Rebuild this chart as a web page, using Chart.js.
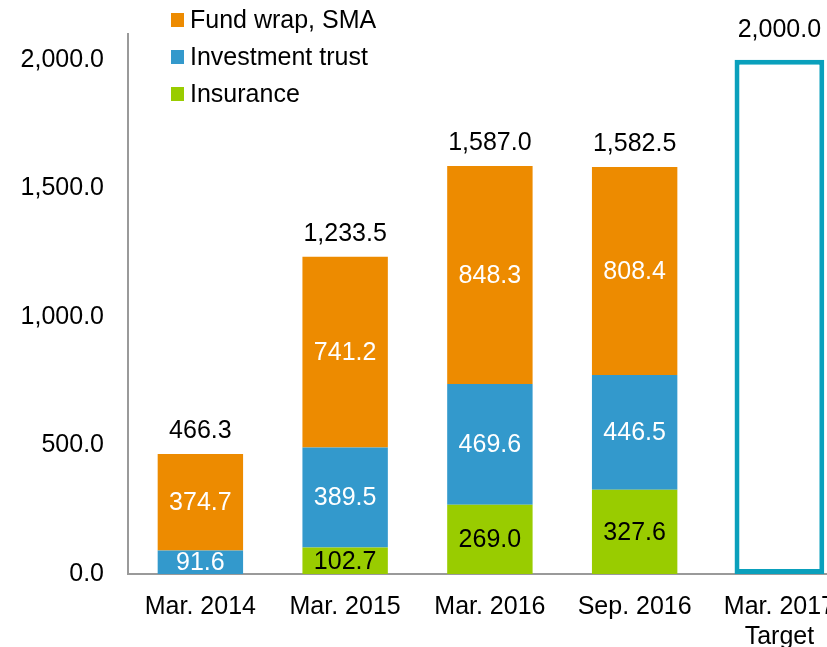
<!DOCTYPE html>
<html>
<head>
<meta charset="utf-8">
<script src="https://cdn.jsdelivr.net/npm/chart.js@4"></script>
<style>
  html, body { margin: 0; padding: 0; background: #fff; overflow: hidden; }
</style>
</head>
<body>
<canvas id="myChart" width="853" height="647"></canvas>
<script>
const categories = ["Mar. 2014", "Mar. 2015", "Mar. 2016", "Sep. 2016", ["Mar. 2017", "Target"]];

const insurance = [0, 102.7, 269.0, 327.6, null];
const investmentTrust = [91.6, 389.5, 469.6, 446.5, null];
const fundWrap = [374.7, 741.2, 848.3, 808.4, null];
const target = [null, null, null, null, 2000.0];
const totals = [466.3, 1233.5, 1587.0, 1582.5, 2000.0];

const yTicks = [0, 500, 1000, 1500, 2000];

const fmt = v => v.toLocaleString("en-US", { minimumFractionDigits: 1, maximumFractionDigits: 1 });

// labels inside segments, totals on top, and the legend in the upper left
const labelPlugin = {
    id: "labels",
    afterDatasetsDraw(chart) {
        const ctx = chart.ctx;
        ctx.save();
        ctx.font = "25px 'Liberation Sans', Arial, sans-serif";
        ctx.textAlign = "center";
        ctx.textBaseline = "middle";

        // segment values
        chart.data.datasets.forEach((ds, di) => {
            if (!ds.segLabelColor) return;
            const meta = chart.getDatasetMeta(di);
            meta.data.forEach((el, i) => {
                const v = ds.data[i];
                if (!v) return;
                ctx.fillStyle = ds.segLabelColor;
                ctx.fillText(fmt(v), el.x, (el.y + el.base) / 2 + 1);
            });
        });

        // totals
        totals.forEach((t, i) => {
            let topY = null, x = null, boxed = false;
            chart.data.datasets.forEach((ds, di) => {
                if (ds.data[i] == null || ds.data[i] === 0) return;
                const el = chart.getDatasetMeta(di).data[i];
                if (topY === null || el.y < topY) {
                    topY = el.y;
                    x = el.x;
                    boxed = !!ds.isTarget;
                }
            });
            ctx.fillStyle = "#000";
            ctx.fillText(fmt(t), x, topY - (boxed ? 30 : 23));
        });

        // legend
        ctx.textAlign = "left";
        const items = chart.data.datasets.filter(ds => !ds.isTarget).slice().reverse();
        items.forEach((ds, k) => {
            const cy = 20 + k * 37;
            ctx.fillStyle = ds.backgroundColor;
            ctx.fillRect(171, cy - 7, 13, 14);
            ctx.fillStyle = "#000";
            ctx.fillText(ds.label, 190, cy + 1);
        });
        ctx.restore();
    }
};

const data = {
    labels: categories,
    datasets: [
        {
            label: "Insurance",
            data: insurance,
            backgroundColor: "#99CC00",
            segLabelColor: "#000"
        },
        {
            label: "Investment trust",
            data: investmentTrust,
            backgroundColor: "#3399CC",
            segLabelColor: "#fff"
        },
        {
            label: "Fund wrap, SMA",
            data: fundWrap,
            backgroundColor: "#ED8B00",
            segLabelColor: "#fff"
        },
        {
            label: "Target",
            data: target,
            backgroundColor: "#fff",
            borderColor: "#0AA0BC",
            borderWidth: 5,
            borderSkipped: false,
            categoryPercentage: 0.62,
            isTarget: true
        }
    ]
};

const config = {
    type: "bar",
    data: data,
    options: {
        responsive: false,
        animation: false,
        layout: {
            padding: { top: 34, left: 0, right: 0, bottom: 0 }
        },
        datasets: {
            bar: {
                categoryPercentage: 0.59,
                barPercentage: 1.0
            }
        },
        plugins: {
            legend: { display: false },
            tooltip: { enabled: false }
        },
        scales: {
            x: {
                stacked: true,
                grid: { display: false, drawTicks: false },
                border: { display: true, color: "#9a9a9a", width: 2 },
                ticks: {
                    color: "#000",
                    padding: 18,
                    maxRotation: 0,
                    autoSkip: false,
                    font: { size: 25, lineHeight: 1.2 }
                },
                afterFit(scale) {
                    scale.height = 73;
                }
            },
            y: {
                stacked: true,
                min: 0,
                max: 2100,
                grid: { display: false, drawTicks: false },
                border: { display: true, color: "#9a9a9a", width: 2 },
                ticks: {
                    color: "#000",
                    padding: 24,
                    font: { size: 25 },
                    callback: v => fmt(v)
                },
                afterBuildTicks(scale) {
                    scale.ticks = yTicks.map(v => ({ value: v }));
                },
                afterFit(scale) {
                    scale.width = 128;
                    scale.paddingTop = 0;
                    scale.paddingBottom = 0;
                }
            }
        }
    },
    plugins: [labelPlugin]
};

Chart.defaults.font.family = "'Liberation Sans', Arial, sans-serif";
Chart.defaults.font.size = 25;
Chart.defaults.color = "#000";

const myChart = new Chart(document.getElementById("myChart"), config);
</script>
</body>
</html>
